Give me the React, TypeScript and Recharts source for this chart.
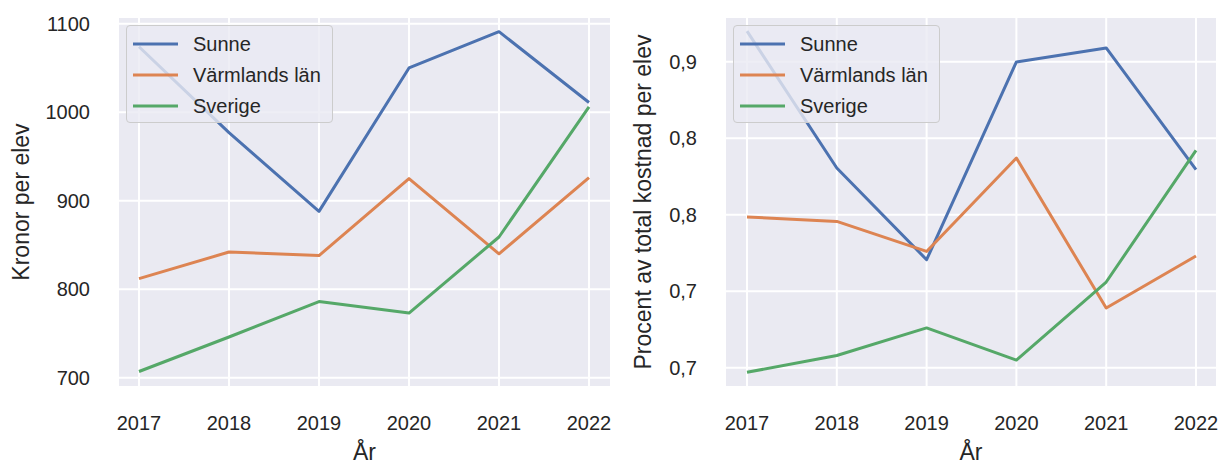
import React from "react"
import {
  LineChart,
  Line,
  XAxis,
  YAxis,
  CartesianGrid,
  Legend,
} from "recharts"

const years = ["2017", "2018", "2019", "2020", "2021", "2022"]

// Kronor per elev
const sunneKr = [1074, 977, 888, 1050, 1091, 1011]
const varmlandKr = [812, 842, 838, 925, 840, 926]
const sverigeKr = [707, 746, 786, 773, 859, 1006]

// Procent av total kostnad per elev
const sunnePct = [0.92, 0.8305, 0.7706, 0.8998, 0.909, 0.8294]
const varmlandPct = [0.7985, 0.7956, 0.776, 0.837, 0.739, 0.773]
const sverigePct = [0.697, 0.708, 0.726, 0.705, 0.756, 0.842]

const krTicks = [700, 800, 900, 1000, 1100]
const krTickLabels = ["700", "800", "900", "1000", "1100"]
const pctTicks = [0.7, 0.75, 0.8, 0.85, 0.9]
const pctTickLabels = ["0,7", "0,7", "0,8", "0,8", "0,9"]

const seriesNames = ["Sunne", "Värmlands län", "Sverige"]
const seriesColors = ["#4C72B0", "#DD8452", "#55A868"]

const textColor = "#262626"
const fontFamily = '"Liberation Sans", Arial, Helvetica, sans-serif'

function buildRows(a: number[], b: number[], c: number[]) {
  return years.map((year, i) => ({
    year,
    [seriesNames[0]]: a[i],
    [seriesNames[1]]: b[i],
    [seriesNames[2]]: c[i],
  }))
}

const krData = buildRows(sunneKr, varmlandKr, sverigeKr)
const pctData = buildRows(sunnePct, varmlandPct, sverigePct)

// eslint-disable-next-line @typescript-eslint/no-explicit-any
function YTitle({ viewBox, value, baseX }: any) {
  const cx = viewBox.x + baseX
  const cy = viewBox.y + viewBox.height / 2
  return (
    <text
      x={cx}
      y={cy}
      transform={`rotate(-90, ${cx}, ${cy})`}
      textAnchor="middle"
      fontSize={23}
      fill={textColor}
    >
      {value}
    </text>
  )
}

// eslint-disable-next-line @typescript-eslint/no-explicit-any
function XTitle({ viewBox, value }: any) {
  return (
    <text
      x={viewBox.x + viewBox.width / 2}
      y={viewBox.y + 73}
      textAnchor="middle"
      fontSize={23}
      fill={textColor}
    >
      {value}
    </text>
  )
}

// eslint-disable-next-line @typescript-eslint/no-explicit-any
function LegendBox({ payload }: any) {
  // keep the plotting order, not alphabetical
  const items = [...(payload || [])].sort(
    (a: { value: string }, b: { value: string }) =>
      seriesNames.indexOf(a.value) - seriesNames.indexOf(b.value)
  )
  return (
    <div
      style={{
        width: 207,
        height: 98,
        boxSizing: "border-box",
        border: "1px solid #cccccc",
        borderRadius: 4,
        background: "rgba(234,234,242,0.8)",
        paddingTop: 2,
      }}
    >
      {items.map((entry: { value: string; color: string }) => (
        <div
          key={entry.value}
          style={{ display: "flex", alignItems: "center", height: 31 }}
        >
          <svg width={66} height={10} style={{ flexShrink: 0 }}>
            <line x1={6} x2={51} y1={5} y2={5} stroke={entry.color} strokeWidth={3} />
          </svg>
          <span style={{ fontSize: 20, color: textColor, lineHeight: "20px" }}>
            {entry.value}
          </span>
        </div>
      ))}
    </div>
  )
}

interface PanelProps {
  data: Array<Record<string, string | number>>
  domain: [number, number]
  ticks: number[]
  tickLabels: string[]
  yLabel: string
  width: number
  yAxisWidth: number
  marginRight: number
  titleX: number
  padLeft: number
  padRight: number
}

function Panel({
  data,
  domain,
  ticks,
  tickLabels,
  yLabel,
  width,
  yAxisWidth,
  marginRight,
  titleX,
  padLeft,
  padRight,
}: PanelProps) {
  return (
    <LineChart
      width={width}
      height={464}
      data={data}
      margin={{ top: 17, right: marginRight, bottom: 0, left: 0 }}
    >
      <CartesianGrid
        fill="#EAEAF2"
        fillOpacity={1}
        stroke="#ffffff"
        strokeWidth={2}
      />
      <XAxis
        dataKey="year"
        height={77}
        padding={{ left: padLeft, right: padRight }}
        axisLine={false}
        tickLine={false}
        tickSize={0}
        tickMargin={29}
        tick={{ fill: textColor, fontSize: 20 }}
        interval={0}
        label={{ value: "År", content: <XTitle /> }}
      />
      <YAxis
        type="number"
        domain={domain}
        ticks={ticks}
        allowDataOverflow
        width={yAxisWidth}
        axisLine={false}
        tickLine={false}
        tickSize={0}
        tickMargin={28}
        tick={{ fill: textColor, fontSize: 20 }}
        tickFormatter={(v: number) => tickLabels[ticks.indexOf(v)] ?? String(v)}
        label={{ value: yLabel, content: <YTitle baseX={titleX} /> }}
      />
      {seriesNames.map((name, i) => (
        <Line
          key={name}
          type="linear"
          dataKey={name}
          stroke={seriesColors[i]}
          strokeWidth={3}
          strokeLinejoin="round"
          dot={false}
          activeDot={false}
          isAnimationActive={false}
        />
      ))}
      <Legend
        layout="vertical"
        align="center"
        verticalAlign="middle"
        content={<LegendBox />}
        wrapperStyle={{ left: yAxisWidth + 8, top: 25, width: 207, height: 98 }}
      />
    </LineChart>
  )
}

export default function App() {
  return (
    <div
      style={{
        position: "absolute",
        left: 0,
        top: 0,
        width: 1221,
        height: 464,
        background: "#ffffff",
        fontFamily,
      }}
    >
      <div style={{ position: "absolute", left: 0, top: 0 }}>
        <Panel
          data={krData}
          domain={[689.5, 1107.6]}
          ticks={krTicks}
          tickLabels={krTickLabels}
          yLabel="Kronor per elev"
          width={620}
          yAxisWidth={118}
          marginRight={9}
          titleX={29}
          padLeft={21}
          padRight={22}
        />
      </div>
      <div style={{ position: "absolute", left: 620, top: 0 }}>
        <Panel
          data={pctData}
          domain={[0.6874, 0.9292]}
          ticks={pctTicks}
          tickLabels={pctTickLabels}
          yLabel="Procent av total kostnad per elev"
          width={601}
          yAxisWidth={105}
          marginRight={4}
          titleX={31}
          padLeft={22}
          padRight={21}
        />
      </div>
    </div>
  )
}
